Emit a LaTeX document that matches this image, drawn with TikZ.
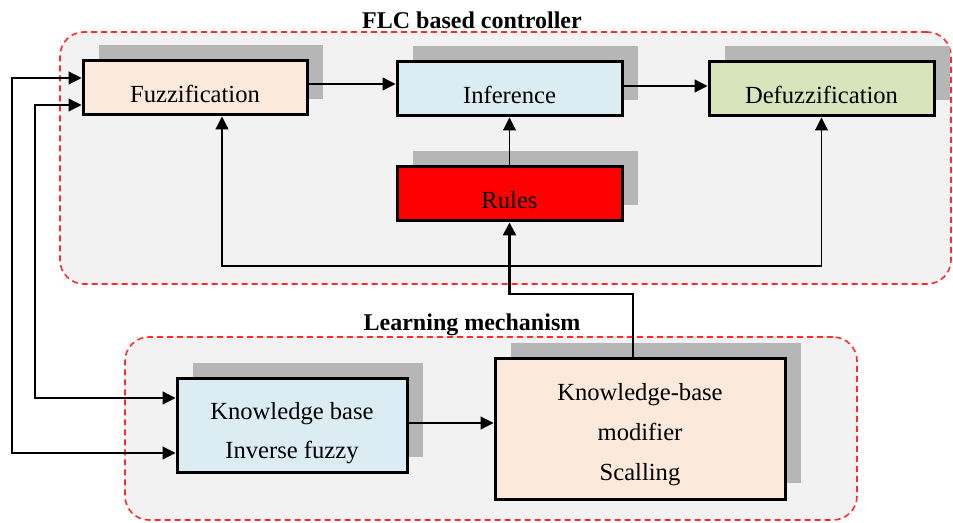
\documentclass[tikz,border=0pt]{standalone}
\usepackage{fontspec}
\setmainfont{Liberation Serif}
\usetikzlibrary{shadows, arrows.meta, calc, positioning}
\definecolor{bfuzz}{HTML}{FBE9DB}
\definecolor{binf}{HTML}{DBEDF3}
\definecolor{bdefuzz}{HTML}{D8E4BC}
\definecolor{brules}{HTML}{FF0000}
\definecolor{grpbg}{HTML}{F2F2F2}
\definecolor{grpline}{HTML}{FF2A2A}
\definecolor{shadowgray}{HTML}{B6B6B6}
\tikzset{
  % blocco con ombra grigia
  block/.style={draw=black, line width=1.5pt, minimum width=112pt, minimum height=27pt,
    align=center, text height=14.5pt,
    drop shadow={shadow xshift=8pt, shadow yshift=8pt, fill=shadowgray, opacity=1}},
  % gruppo tratteggiato
  group/.style={draw=grpline, fill=grpbg, dashed, dash pattern=on 3pt off 2pt,
    line width=0.8pt, rounded corners=12pt},
  % titolo di un gruppo
  grptitle/.style={font=\fontsize{12}{14}\selectfont\bfseries},
  % collegamenti
  arr/.style={-{Triangle[length=6.5pt, width=6.5pt]}, line width=0.6pt},
  biarr/.style={{Triangle[length=6.5pt, width=6.5pt]}-{Triangle[length=6.5pt, width=6.5pt]}, line width=0.6pt},
  thickarr/.style={-{Triangle[length=6.5pt, width=6.5pt]}, line width=1.3pt},
}

\begin{document}
\begin{tikzpicture}[x=0.5pt, y=-0.5pt, every node/.style={font=\fontsize{12.3}{14}\selectfont}]
  \useasboundingbox (0,0) rectangle (953,523);
  % gruppi
  \node[group, minimum width=445.5pt, minimum height=126pt] (flc) at (505.5,158) {};
  \node[group, minimum width=366pt, minimum height=91.5pt] (learn) at (491,428.5) {};
  \node[grptitle] (flctitle) at (472,20) {FLC based controller};
  \node[grptitle] (learntitle) at (472,325) {Learning mechanism};
  % blocchi del controllore
  \node[block, fill=bfuzz] (fuzz) at (195,88) {Fuzzification};
  \node[block, fill=binf, minimum width=112.5pt] (inf) at (509.5,89) {Inference};
  \node[block, fill=bdefuzz, minimum width=112.5pt] (defuzz) at (821.5,89) {Defuzzification};
  \node[block, fill=brules, minimum width=112.5pt] (rules) at (509.5,194) {Rules};
  % blocchi di apprendimento
  \node[block, fill=binf, minimum width=115pt, minimum height=47pt, text height=35pt,
    font=\fontsize{12.3}{19.5}\selectfont] (kb) at (292,426) {Knowledge base\\Inverse fuzzy};
  \node[block, fill=bfuzz, minimum width=145pt, minimum height=70pt, text height=54.5pt,
    font=\fontsize{12.3}{20}\selectfont] (mod) at (640,429) {Knowledge-base\\modifier\\Scalling};
  % frecce
  \draw[arr] ([yshift=2pt]fuzz.east) -- ([yshift=2pt]fuzz.east -| inf.west);
  \draw[arr] ([yshift=1.5pt]inf.east) -- ([yshift=1.5pt]inf.east -| defuzz.west);
  \draw[arr] (rules) -- (inf);
  \draw[arr] ([yshift=1.5pt]kb.east) -- ([yshift=1.5pt]kb.east -| mod.west);
  \coordinate (fb) at (222,266);
  \draw[biarr] (fb |- fuzz.south) -- (fb) -| (defuzz.south);
  \coordinate (bend) at (633,294);
  \draw[thickarr] (bend |- mod.north) -- (bend) -| (rules.south);
  \coordinate (c1) at (12,453);
  \coordinate (c2) at (35,398);
  \draw[biarr] ([yshift=5pt]fuzz.west) -| (c1) -- ([yshift=-13.5pt]kb.west);
  \draw[biarr] ([yshift=-8.5pt]fuzz.west) -| (c2) -- ([yshift=14pt]kb.west);
\end{tikzpicture}
\end{document}
